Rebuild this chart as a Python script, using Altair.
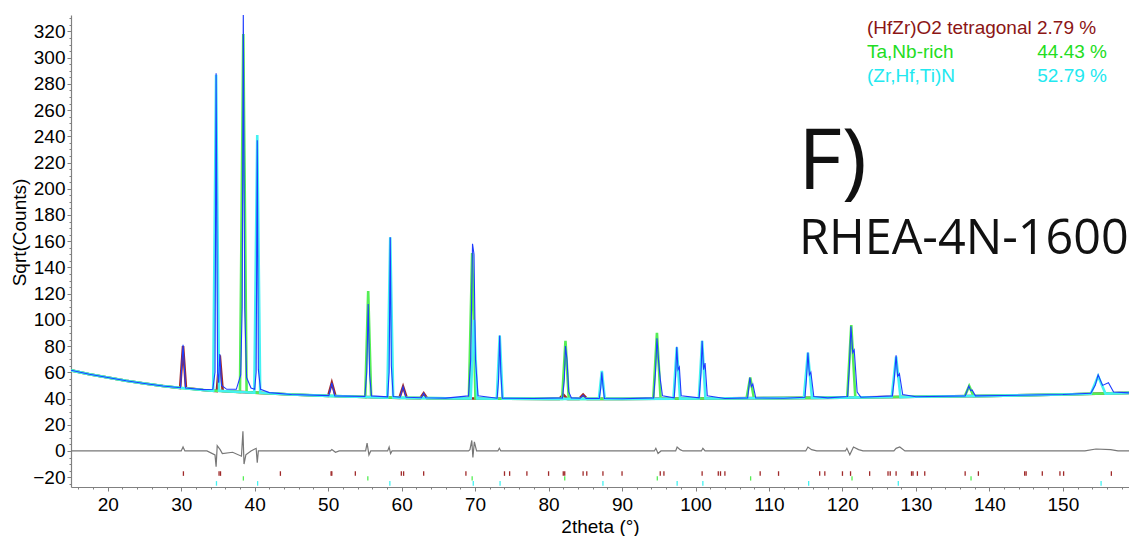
import altair as alt
import pandas as pd

# ---------------- data ----------------
# background knots (2theta, sqrt counts)
BG_X = [15, 17.5, 20, 22.5, 25, 27.5, 30, 33, 36, 40, 45, 50, 55, 60, 70, 80, 90, 100, 110, 120, 130, 140, 150, 159]
BG_Y = [61.5, 58.5, 56, 53.5, 51.5, 49.5, 48, 46.5, 45.5, 44.5, 43, 42, 41.2, 40.5, 40, 39.7, 39.7, 40, 40.3, 40.7, 41.3, 42, 43, 44.3]

# observed pattern vertices
OBS_X = [15, 17.5, 20, 22.5, 25, 27.5,
         29.9, 30.25, 30.6, 33, 34.3, 34.6, 34.75, 34.95, 35.1, 35.25, 35.5, 36.2, 37.5,
         38.1, 38.3, 38.45, 38.65, 38.9, 39.5, 40.0, 40.2, 40.35, 40.5, 40.8, 42, 45,
         50.1, 50.5, 50.9, 55.0, 55.25, 55.45, 55.65, 55.9, 58.1, 58.3, 58.45, 58.6, 58.85,
         59.8, 60.2, 60.6, 62.7, 63.0, 63.3, 66, 69.1, 69.4, 69.65, 69.85, 70.05, 70.4,
         73.0, 73.2, 73.35, 73.5, 73.7, 78, 81.9, 82.15, 82.3, 82.5, 82.75, 83.1, 84.3, 84.7, 85.1,
         86.9, 87.1, 87.25, 87.4, 87.6, 90, 94.3, 94.55, 94.75, 94.95, 95.2, 95.5,
         97.1, 97.3, 97.45, 97.62, 97.8, 98.05, 100.5, 100.75, 100.9, 101.1, 101.3, 101.6, 104,
         107.1, 107.4, 107.6, 107.8, 108.2, 112, 114.9, 115.1, 115.3, 115.5, 115.7, 116.1, 118,
         120.7, 120.95, 121.15, 121.4, 121.6, 122.0, 122.5, 126.8, 127.05, 127.3, 127.5, 127.75, 128.2,
         130, 136.7, 137.2, 137.45, 137.65, 138.1, 142, 150, 153.8, 154.4, 154.8, 155.4, 156.2, 156.9, 159]
OBS_Y = [61.5, 58.5, 56, 53.5, 51.5, 49.5,
         48.2, 81, 48, 46.8, 47, 60, 288, 60, 52, 74, 50, 47, 47,
         58, 110, 336, 108, 56, 48, 47, 60, 237, 62, 47, 44.5, 43,
         42.2, 52, 42, 41.5, 60, 112, 58, 42, 41.3, 60, 163, 65, 41.5,
         41, 49, 41, 40.6, 44, 40.6, 40.3, 42, 70, 158, 150, 70, 42,
         40.2, 55, 88, 60, 40.3, 40, 40.5, 55, 80, 70, 45, 40.5, 40.2, 42.5, 40,
         40, 48, 60, 50, 40, 39.8, 40.5, 60, 86, 70, 55, 42,
         40.5, 58, 79.5, 62, 64, 42, 40.5, 60, 84, 62, 67, 42, 40,
         40.5, 56, 49, 51, 40.5, 40.2, 41, 55, 75, 58, 60, 41.5, 40.5,
         41.5, 65, 95, 75, 77, 45, 41, 42, 55, 73, 57, 59, 43,
         41.3, 42, 49.5, 46, 46.5, 42, 42.3, 43, 44, 50, 58, 50, 52, 45, 44.3]

# phase peaks: centre, top, base, half width at base
TANB_C = [38.45, 55.45, 69.6, 82.3, 94.75, 107.45, 121.2, 137.25]
TANB_H = [318, 122, 151, 84, 90, 56, 96, 49.5]
TANB_B = [44.9, 41.1, 40, 39.7, 39.8, 40.2, 40.8, 41.8]
TANB_W = [0.45, 0.4, 0.45, 0.45, 0.5, 0.5, 0.55, 0.6]

NITR_C = [34.75, 40.35, 58.45, 69.85, 73.35, 87.25, 97.45, 100.9, 115.3, 127.3, 154.8]
NITR_H = [287, 241, 163, 100, 88, 61, 79, 84, 75, 72, 57]
NITR_B = [45.8, 44.4, 40.7, 40, 39.9, 39.7, 39.9, 40, 40.5, 41.1, 43.6]
NITR_W = [0.4, 0.4, 0.4, 0.45, 0.4, 0.4, 0.45, 0.45, 0.55, 0.6, 1.0]

OXID_C = [30.25, 35.25, 50.5, 60.2, 63.0, 82.0, 84.7]
OXID_H = [80, 73, 52, 49, 44, 43, 43]
OXID_B = [47.9, 45.7, 41.9, 40.5, 40.3, 39.7, 39.7]
OXID_W = [0.4, 0.4, 0.5, 0.5, 0.45, 0.55, 0.55]

# difference curve
DIFF_X = [15, 30, 30.25, 30.5, 33.5, 34.6, 34.75, 34.9, 35.3, 35.6, 37, 38.2, 38.4, 38.55, 38.8, 39.5,
          40.2, 40.35, 40.5, 45, 50.3, 50.5, 51, 51.5, 55.1, 55.3, 55.55, 55.8, 58.1, 58.3, 58.5, 58.7,
          69.1, 69.3, 69.55, 69.7, 69.9,
          70.2, 73.1, 73.3, 73.5, 94.4, 94.6, 94.9, 95.3, 97.3, 97.5, 97.9, 98.3, 100.8, 101, 101.3, 101.7,
          115.0, 115.3, 115.8, 116.5,
          120.4, 120.6, 121.0, 121.5, 122.2, 122.8, 127.0, 127.3, 127.8, 128.5, 153, 154.5, 156.5, 157.5, 159]
DIFF_Y = [0, 0, 3, 0, 0, -3, -12, 4, 1, -2, -1, -4, 15, -10, -3, 0,
          2, -9, 0, 0, 0, 1, -1, 0, 0, 6, -3, 0, 0, 3, -2, 0,
          0, 1, 8, -5, 7,
          0, 0, 2, 0, 0, 2, -2, 0, 0, 3, 1, 0, 0, 2, 0, 0,
          0, 3, 1, 0,
          0, 2, -3, 3, 1, 0, 0, 2, 3, 0, 0, 1.5, 1, 0, 0]

# reflection (hkl) positions
HKL_OXID = [30.3, 35.15, 35.35, 43.5, 50.4, 50.5, 53.7, 59.96, 60.27, 63.0, 68.75, 74.0, 74.7, 77.05, 80.0,
            82.0, 82.2, 84.7, 85.2, 87.4, 90.0, 95.2, 95.7, 100.9, 103.1, 103.4, 104.0, 108.8, 111.3,
            116.9, 117.6, 120.0, 121.1, 123.7, 126.2, 126.5, 127.3, 129.4, 129.6, 130.2, 131.2,
            136.7, 138.5, 144.8, 145.0, 147.2, 149.6, 150.1, 156.6]
HKL_TANB = [38.46, 55.4, 69.6, 82.2, 94.8, 107.5, 121.3, 137.5]
HKL_NITR = [34.8, 40.4, 58.4, 69.75, 73.4, 87.4, 97.5, 101.0, 115.4, 127.6, 155.2]

PHASES = ["(HfZr)O2 tetragonal", "Ta,Nb-rich", "(Zr,Hf,Ti)N"]
PERCENT = ["2.79 %", "44.43 %", "52.79 %"]
LINE_COLORS = ["#a02a2a", "#55ee55", "#44f2f2"]
TEXT_COLORS = ["#8b1515", "#22dd22", "#22e8f0"]
TICK_COLORS = ["#a03030", "#44ee44", "#22eeee"]

# ---------------- build tables ----------------
def phase_vertices(cs, hs, bs, ws):
    pts = [(x, y) for x, y in zip(BG_X, BG_Y)
           if all(abs(x - c) > w for c, w in zip(cs, ws))]
    for c, h, b, w in zip(cs, hs, bs, ws):
        pts += [(c - w, b), (c, h), (c + w, b)]
    pts.sort()
    return pts

rows = []
for name, (cs, hs, bs, ws) in zip(PHASES, [(OXID_C, OXID_H, OXID_B, OXID_W),
                                           (TANB_C, TANB_H, TANB_B, TANB_W),
                                           (NITR_C, NITR_H, NITR_B, NITR_W)]):
    for i, (x, y) in enumerate(phase_vertices(cs, hs, bs, ws)):
        rows.append({"x": x, "y": y, "series": name, "i": i})
phase_df = pd.DataFrame(rows)

obs_df = pd.DataFrame({"x": OBS_X, "y": OBS_Y, "i": range(len(OBS_X))})
diff_df = pd.DataFrame({"x": DIFF_X, "y": DIFF_Y, "i": range(len(DIFF_X))})

levels = [(-15.5, -19.0), (-19.3, -22.6), (-23.0, -26.5)]
trows = []
for name, xs, (a, b) in zip(PHASES, [HKL_OXID, HKL_TANB, HKL_NITR], levels):
    for x in xs:
        trows.append({"x": x, "y": a, "y2": b, "series": name})
hkl_df = pd.DataFrame(trows)

# ---------------- scales / axes ----------------
XS = alt.Scale(domain=[15, 159], nice=False, zero=False)
YS = alt.Scale(domain=[-27.5, 332.5], nice=False, zero=False)
COL = alt.Scale(domain=PHASES, range=LINE_COLORS)
TCOL = alt.Scale(domain=PHASES, range=TICK_COLORS)

x_axis = alt.Axis(values=list(range(20, 151, 10)), title="2theta (°)", grid=False,
                  tickSize=4, labelPadding=4, format="d",
                  titleY=39, titleBaseline="middle")
y_axis = alt.Axis(values=list(range(-20, 321, 20)), title="Sqrt(Counts)", grid=False,
                  tickSize=4, labelPadding=2, format="d",
                  titleX=-52, titleY=217, titleAngle=-90, titleAlign="center",
                  titleBaseline="middle")

def X(f="x"):
    return alt.X(f"{f}:Q", scale=XS, axis=x_axis)

def Y(f="y"):
    return alt.Y(f"{f}:Q", scale=YS, axis=y_axis)

phase_lines = alt.Chart(phase_df).mark_line(strokeWidth=2.6, clip=True).encode(
    x=X(), y=Y(), color=alt.Color("series:N", scale=COL, legend=None),
    detail="series:N", order="i:Q")

obs_line = alt.Chart(obs_df).mark_line(strokeWidth=1.1, color="#1e3cff", clip=True).encode(
    x=X(), y=Y(), order="i:Q")

diff_line = alt.Chart(diff_df).mark_line(strokeWidth=1.2, color="#777777", clip=True).encode(
    x=X(), y=Y(), order="i:Q")

hkl = alt.Chart(hkl_df).mark_rule(strokeWidth=1.3).encode(
    x=X(), y=Y(), y2="y2:Q", color=alt.Color("series:N", scale=TCOL, legend=None))

# annotations
txt_font = "Liberation Sans"
leg1 = alt.Chart(pd.DataFrame({"t": [PHASES[0] + " " + PERCENT[0]]})).mark_text(
    align="left", baseline="middle", font=txt_font, fontSize=19, color=TEXT_COLORS[0]
).encode(text="t:N", x=alt.value(796), y=alt.value(13))
leg2 = alt.Chart(pd.DataFrame({"t": [PHASES[1]]})).mark_text(
    align="left", baseline="middle", font=txt_font, fontSize=19, color=TEXT_COLORS[1]
).encode(text="t:N", x=alt.value(796), y=alt.value(37))
leg2b = alt.Chart(pd.DataFrame({"t": [PERCENT[1]]})).mark_text(
    align="right", baseline="middle", font=txt_font, fontSize=19, color=TEXT_COLORS[1]
).encode(text="t:N", x=alt.value(1036), y=alt.value(37))
leg3 = alt.Chart(pd.DataFrame({"t": [PHASES[2]]})).mark_text(
    align="left", baseline="middle", font=txt_font, fontSize=19, color=TEXT_COLORS[2]
).encode(text="t:N", x=alt.value(796), y=alt.value(61))
leg3b = alt.Chart(pd.DataFrame({"t": [PERCENT[2]]})).mark_text(
    align="right", baseline="middle", font=txt_font, fontSize=19, color=TEXT_COLORS[2]
).encode(text="t:N", x=alt.value(1036), y=alt.value(61))

label_f = alt.Chart(pd.DataFrame({"t": ["F)"]})).mark_text(
    align="left", baseline="alphabetic", font="Open Sans", fontSize=85, color="#111111"
).encode(text="t:N", x=alt.value(727), y=alt.value(174))
label_s = alt.Chart(pd.DataFrame({"t": ["RHEA-4N-1600"]})).mark_text(
    align="left", baseline="alphabetic", font="Open Sans", fontSize=48.5, color="#111111"
).encode(text="t:N", x=alt.value(728), y=alt.value(239))

main = alt.layer(phase_lines, obs_line, diff_line, hkl,
                 leg1, leg2, leg2b, leg3, leg3b, label_f, label_s)

# minor ticks
minor = alt.Chart(obs_df).mark_point(opacity=0).encode(
    x=alt.X("x:Q", scale=XS, axis=alt.Axis(values=list(range(16, 159, 2)), labels=False,
                                            domain=False, grid=False, tickSize=2,
                                            title=None, orient="bottom")),
    y=alt.Y("y:Q", scale=YS, axis=alt.Axis(values=list(range(-25, 333, 5)), labels=False,
                                            domain=False, grid=False, tickSize=2,
                                            title=None, orient="left")))

chart = alt.layer(main, minor).resolve_axis(x="independent", y="independent").properties(
    width=1058, height=472,
    autosize=alt.AutoSizeParams(type="none"),
    padding={"left": 71, "top": 15, "right": 0, "bottom": 49},
).configure_view(stroke=None).configure_axis(
    domainColor="#808080", tickColor="#808080", labelColor="#000000",
    labelFont="Liberation Sans", labelFontSize=19, titleFont="Liberation Sans",
    titleFontSize=19, titleFontWeight="normal", titleColor="#000000", domainWidth=1.2
)

chart.save("out.html", embed_options={"renderer": "svg", "actions": False})
